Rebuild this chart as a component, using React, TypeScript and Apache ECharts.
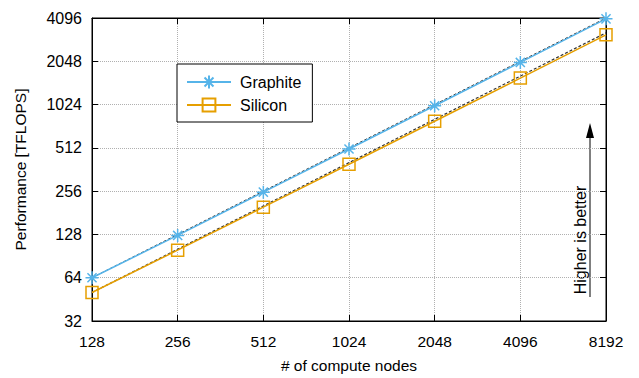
import React, { useEffect, useRef } from "react";
import * as echarts from "echarts";

const nodes = [128, 256, 512, 1024, 2048, 4096, 8192];
const graphite = [64, 126, 252, 503, 1005, 2010, 4040];
const silicon = [50.5, 99.5, 198, 394, 784, 1565, 3130];
const graphiteIdeal = [64, 128, 256, 512, 1024, 2048, 4096];
const siliconIdeal = [50.5, 101, 202, 404, 808, 1616, 3232];

const FONT = "Liberation Sans, Arial, sans-serif";
const BLUE = "#56B4E9";
const ORANGE = "#E69F00";
const STAR = "path://M5,0L5,10M0,5L10,5M1.5,1.5L8.5,8.5M1.5,8.5L8.5,1.5";

export default function App() {
  const ref = useRef<HTMLDivElement>(null);
  useEffect(() => {
    if (!ref.current) return;
    const chart = echarts.init(ref.current, undefined, { renderer: "svg" });
    const pairs = (ys: number[]) => nodes.map((x, i) => [x, ys[i]]);
    const splitLine = { show: true, lineStyle: { type: "dotted", color: "#b0b0b0", width: 1 } };
    chart.setOption({
      animation: false,
      backgroundColor: "#fff",
      textStyle: { fontFamily: FONT },
      grid: { left: 92, right: 33, top: 18, bottom: 54, show: true, borderColor: "#000", borderWidth: 1, backgroundColor: "transparent" },
      legend: {
        left: 177,
        top: 64,
        orient: "vertical",
        data: ["Graphite", "Silicon"],
        backgroundColor: "#fff",
        borderColor: "#000",
        borderWidth: 1,
        padding: [10, 11, 9, 9],
        itemWidth: 44,
        itemHeight: 16,
        itemGap: 7,
        textStyle: { fontFamily: FONT, fontSize: 16, color: "#000", padding: [0, 0, 0, 4] },
      },
      xAxis: [
        {
          type: "log",
          logBase: 2,
          min: 128,
          max: 8192,
          interval: 1,
          name: "# of compute nodes",
          nameLocation: "middle",
          nameGap: 36,
          nameTextStyle: { fontFamily: FONT, fontSize: 15.5, color: "#000" },
          axisLine: { show: true, lineStyle: { color: "#000" } },
          axisTick: { show: true, inside: true, length: 6, lineStyle: { color: "#000" } },
          axisLabel: { fontFamily: FONT, fontSize: 15.5, color: "#000", margin: 12, formatter: (v: number) => String(Math.round(v)) },
          splitLine,
        },
        {
          type: "log",
          logBase: 2,
          min: 128,
          max: 8192,
          interval: 1,
          position: "top",
          axisLine: { show: true, lineStyle: { color: "#000" } },
          axisTick: { show: true, inside: true, length: 6, lineStyle: { color: "#000" } },
          axisLabel: { show: false },
          splitLine: { show: false },
        },
      ],
      yAxis: [
        {
          type: "log",
          logBase: 2,
          min: 32,
          max: 4096,
          interval: 1,
          name: "Performance [TFLOPS]",
          nameLocation: "middle",
          nameGap: 64,
          nameTextStyle: { fontFamily: FONT, fontSize: 15.5, color: "#000" },
          axisLine: { show: true, lineStyle: { color: "#000" } },
          axisTick: { show: true, inside: true, length: 6, lineStyle: { color: "#000" } },
          axisLabel: { fontFamily: FONT, fontSize: 16, color: "#000", margin: 10, formatter: (v: number) => String(Math.round(v)) },
          splitLine,
        },
        {
          type: "log",
          logBase: 2,
          min: 32,
          max: 4096,
          interval: 1,
          position: "right",
          axisLine: { show: true, lineStyle: { color: "#000" } },
          axisTick: { show: true, inside: true, length: 6, lineStyle: { color: "#000" } },
          axisLabel: { show: false },
          splitLine: { show: false },
        },
      ],
      series: [
        {
          name: "Graphite ideal",
          type: "line",
          data: pairs(graphiteIdeal),
          symbol: "none",
          lineStyle: { color: "#333", width: 1, type: [3, 2] },
          z: 1,
        },
        {
          name: "Silicon ideal",
          type: "line",
          data: pairs(siliconIdeal),
          symbol: "none",
          lineStyle: { color: "#333", width: 1.2, type: [3, 2] },
          z: 1,
        },
        {
          name: "Graphite",
          type: "line",
          data: pairs(graphite),
          symbol: STAR,
          symbolSize: 13,
          color: BLUE,
          itemStyle: { color: BLUE, borderColor: BLUE, borderWidth: 1.5 },
          lineStyle: { color: BLUE, width: 1.5 },
          z: 3,
        },
        {
          name: "Silicon",
          type: "line",
          data: pairs(silicon),
          symbol: "rect",
          symbolSize: 12,
          color: ORANGE,
          itemStyle: { color: "transparent", borderColor: ORANGE, borderWidth: 1.5 },
          lineStyle: { color: ORANGE, width: 1.5 },
          z: 2,
        },
      ],
      graphic: [
        { type: "line", shape: { x1: 590, y1: 297, x2: 590, y2: 136 }, style: { stroke: "#000", lineWidth: 1 } },
        { type: "polygon", shape: { points: [[590, 123], [586, 138], [594, 138]] }, style: { fill: "#000" } },
        {
          type: "text",
          x: 580,
          y: 240,
          rotation: Math.PI / 2,
          style: { text: "Higher is better", fontFamily: FONT, fontSize: 16, fill: "#000", align: "center", verticalAlign: "middle" },
        },
      ],
    });
    return () => chart.dispose();
  }, []);
  return <div ref={ref} style={{ width: 639, height: 378, position: "absolute", left: 0, top: 0 }} />;
}
